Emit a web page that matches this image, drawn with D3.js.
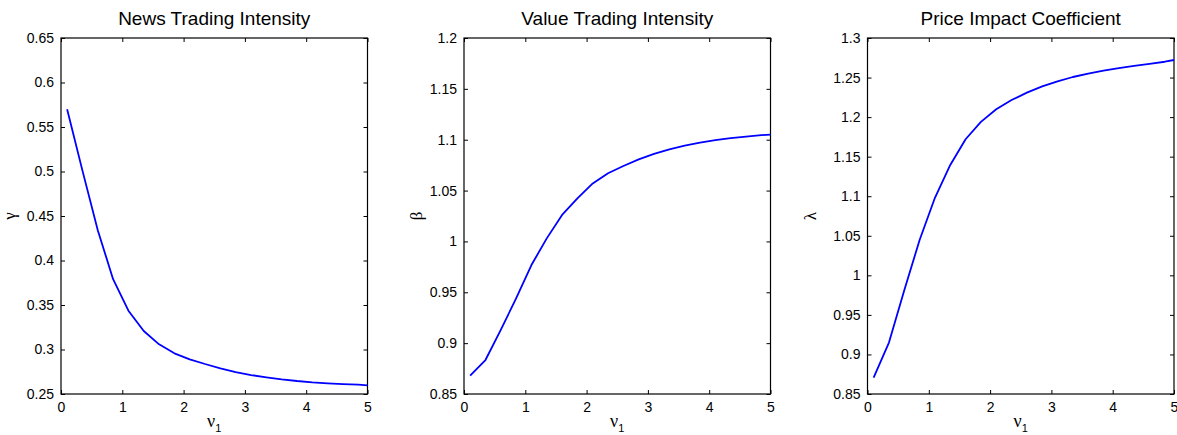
<!DOCTYPE html>
<html>
<head>
<meta charset="utf-8">
<script src="https://cdn.jsdelivr.net/npm/d3@7"></script>
<style>
  html, body { margin: 0; padding: 0; background: #fff; }
  svg { display: block; }
  text { font-family: "Liberation Sans", Arial, Helvetica, sans-serif; fill: #000; }
</style>
</head>
<body>
<svg id="chart" width="1177" height="435"></svg>
<script>
// ---- data ----
const nu1 = [0.1, 0.35, 0.6, 0.85, 1.1, 1.35, 1.6, 1.85, 2.1, 2.35, 2.6, 2.85, 3.1, 3.35, 3.6, 3.85, 4.1, 4.35, 4.6, 4.85, 5.0];
const gammaValues = [0.570, 0.501, 0.434, 0.379, 0.3436, 0.3208, 0.3058, 0.2957, 0.289, 0.2837, 0.2789, 0.2747, 0.2713, 0.2688, 0.2665, 0.2646, 0.2631, 0.262, 0.2612, 0.2605, 0.2597];
const betaValues = [0.868, 0.8834, 0.913, 0.944, 0.9768, 1.003, 1.026, 1.0424, 1.057, 1.067, 1.0742, 1.0807, 1.086, 1.0906, 1.0942, 1.0972, 1.0995, 1.1015, 1.1031, 1.1045, 1.1051];
const lambdaValues = [0.8706, 0.915, 0.981, 1.0447, 1.098, 1.1395, 1.172, 1.194, 1.2099, 1.2216, 1.2309, 1.2388, 1.2452, 1.2507, 1.2550, 1.2587, 1.2619, 1.2648, 1.2674, 1.2700, 1.2722];

const titles = ["News Trading Intensity", "Value Trading Intensity", "Price Impact Coefficient"];
const yLabels = ["\u03B3", "\u03B2", "\u03BB"];
const xTicks = [0, 1, 2, 3, 4, 5];
const yTicks1 = [0.25, 0.3, 0.35, 0.4, 0.45, 0.5, 0.55, 0.6, 0.65];
const yTicks2 = [0.85, 0.9, 0.95, 1, 1.05, 1.1, 1.15, 1.2];
const yTicks3 = [0.85, 0.9, 0.95, 1, 1.05, 1.1, 1.15, 1.2, 1.25, 1.3];
const yDomains = [[0.25, 0.65], [0.85, 1.2], [0.85, 1.3]];

// ---- layout ----
const panels = [
  { left: 61, values: gammaValues, ticks: yTicks1 },
  { left: 464, values: betaValues, ticks: yTicks2 },
  { left: 867.5, values: lambdaValues, ticks: yTicks3 }
];
const W = 306.5, plotTop = 38, plotBottom = 394, tickLen = 4;
const svg = d3.select("#chart");

panels.forEach((p, i) => {
  const g = svg.append("g").attr("transform", `translate(${p.left},0)`);
  const x = d3.scaleLinear().domain([0, 5]).range([0, W]);
  const y = d3.scaleLinear().domain(yDomains[i]).range([plotBottom, plotTop]);
  const fmt = d => String(+d.toFixed(2));

  const xb = g.append("g").attr("transform", `translate(0,${plotBottom})`)
    .call(d3.axisBottom(x).tickValues(xTicks).tickSizeInner(-tickLen).tickSizeOuter(0).tickPadding(8).tickFormat(fmt));
  const xt = g.append("g").attr("transform", `translate(0,${plotTop})`)
    .call(d3.axisTop(x).tickValues(xTicks).tickSizeInner(-tickLen).tickSizeOuter(0).tickFormat(""));
  const yl = g.append("g")
    .call(d3.axisLeft(y).tickValues(p.ticks).tickSizeInner(-tickLen).tickSizeOuter(0).tickPadding(7).tickFormat(fmt));
  const yr = g.append("g").attr("transform", `translate(${W},0)`)
    .call(d3.axisRight(y).tickValues(p.ticks).tickSizeInner(-tickLen).tickSizeOuter(0).tickFormat(""));

  [xb, xt, yl, yr].forEach(a => {
    a.select(".domain").remove();
    a.selectAll(".tick line").attr("stroke", "#000").attr("stroke-width", 1);
    a.selectAll(".tick text").attr("font-size", 14).attr("fill", "#000")
      .style("font-family", '"Liberation Sans", Arial, sans-serif');
  });

  g.append("rect").attr("x", 0).attr("y", plotTop).attr("width", W).attr("height", plotBottom - plotTop)
    .attr("fill", "none").attr("stroke", "#000").attr("stroke-width", 1.2);

  const line = d3.line().x((d, k) => x(nu1[k])).y(d => y(d));
  g.append("path").datum(p.values).attr("d", line)
    .attr("fill", "none").attr("stroke", "#0000ff").attr("stroke-width", 1.8)
    .attr("stroke-linejoin", "round");

  g.append("text").attr("x", W / 2).attr("y", 25).attr("text-anchor", "middle")
    .attr("font-size", 19).text(titles[i]);

  const xl = g.append("text").attr("x", W / 2).attr("y", 427).attr("text-anchor", "middle")
    .style("font-family", '"Liberation Serif", "DejaVu Serif", serif').attr("font-size", 18);
  xl.append("tspan").text("\u03BD");
  xl.append("tspan").attr("dy", 5).attr("font-size", 11)
    .style("font-family", '"Liberation Sans", Arial, sans-serif').text("1");

  const ylx = [-46, -42, -52][i];
  g.append("text").attr("transform", `translate(${ylx},${(plotTop + plotBottom) / 2}) rotate(-90)`)
    .attr("text-anchor", "middle").attr("font-size", 17)
    .style("font-family", '"Liberation Serif", "DejaVu Serif", serif').text(yLabels[i]);
});
</script>
</body>
</html>
